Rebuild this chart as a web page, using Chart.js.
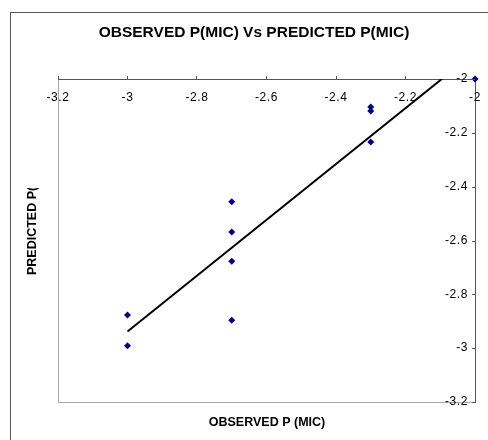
<!DOCTYPE html>
<html>
<head>
<meta charset="utf-8">
<script src="https://cdn.jsdelivr.net/npm/chart.js@4.4.1/dist/chart.umd.min.js"></script>
<style>
html,body{margin:0;padding:0;background:#fff;}
#wrap{position:relative;width:488px;height:440px;}
</style>
</head>
<body>
<div id="wrap"><canvas id="c" width="488" height="440"></canvas></div>
<script>
// ---- data ----
const observed  = [-2, -2.3, -2.3, -2.3, -2.7, -2.7, -2.7, -2.7, -3, -3];
const predicted = [-2, -2.104, -2.119, -2.234, -2.456, -2.568, -2.677, -2.896, -2.877, -2.991];
const axisMin = -3.2, axisMax = -2, axisStep = 0.2;
const titleText = 'OBSERVED P(MIC) Vs PREDICTED P(MIC)';
const xTitleText = 'OBSERVED P (MIC)';
const yTitleText = 'PREDICTED P(MIC)';

// least-squares trendline (linear)
const n = observed.length;
const mx = observed.reduce((a,b)=>a+b,0)/n;
const my = predicted.reduce((a,b)=>a+b,0)/n;
let sxy=0, sxx=0;
for (let i=0;i<n;i++){ sxy+=(observed[i]-mx)*(predicted[i]-my); sxx+=(observed[i]-mx)**2; }
const slope = sxy/sxx, icpt = my - slope*mx;
const xStart = Math.min(...observed);
const xEnd = (axisMax - icpt)/slope;
const trend = [{x:xStart, y:icpt+slope*xStart},{x:xEnd, y:icpt+slope*xEnd}];

const pts = observed.map((x,i)=>({x, y:predicted[i]}));

const FONT = "'Liberation Sans', Arial, sans-serif";
const fmt = v => String(Math.round(v*10)/10);

const decor = {
  id:'decor',
  beforeDraw(chart){
    const ctx = chart.ctx, a = chart.chartArea;
    ctx.save();
    ctx.strokeStyle = '#555';
    ctx.lineWidth = 1;
    ctx.strokeRect(10.5, 12.5, 500, 450);
    ctx.strokeStyle = '#a6a6a6';
    ctx.beginPath();
    ctx.moveTo(a.left+0.5, a.top); ctx.lineTo(a.left+0.5, a.bottom+0.5);
    ctx.lineTo(a.right, a.bottom+0.5);
    ctx.stroke();
    ctx.restore();
  },
  afterDraw(chart){
    const ctx = chart.ctx, a = chart.chartArea;
    const xs = chart.scales.x, ys = chart.scales.y;
    ctx.save();
    ctx.strokeStyle = '#555';
    ctx.lineWidth = 1;
    ys.ticks.forEach(t=>{
      const py = Math.round(ys.getPixelForValue(t.value))+0.5;
      ctx.beginPath(); ctx.moveTo(a.right-3, py); ctx.lineTo(a.right, py); ctx.stroke();
    });
    // tick labels
    ctx.fillStyle = '#000';
    ctx.font = "12px " + FONT;
    ctx.letterSpacing = '0.6px';
    ctx.textBaseline = 'middle';
    ctx.textAlign = 'center';
    xs.ticks.forEach(t=>{
      ctx.fillText(fmt(t.value), xs.getPixelForValue(t.value), a.top + 19);
    });
    ctx.textAlign = 'right';
    ys.ticks.forEach(t=>{
      ctx.fillText(fmt(t.value), a.right - 7, ys.getPixelForValue(t.value));
    });
    ctx.letterSpacing = '0px';
    // title
    ctx.textAlign = 'center';
    ctx.font = "bold 15.5px " + FONT;
    ctx.fillText(titleText, 254, 33);
    // x title
    ctx.font = "bold 12.5px " + FONT;
    ctx.fillText(xTitleText, 267, 423);
    // y title (rotated, clipped like the reference)
    ctx.save();
    ctx.beginPath(); ctx.rect(0, 188, 60, 200); ctx.clip();
    ctx.translate(33, 275);
    ctx.rotate(-Math.PI/2);
    ctx.textAlign = 'left';
    ctx.fillText(yTitleText, 0, 0);
    ctx.restore();
    ctx.restore();
  }
};

new Chart(document.getElementById('c'), {
  type:'scatter',
  data:{
    datasets:[
      {label:'Trend', type:'line', data:trend, borderColor:'#000', borderWidth:2, pointRadius:0, fill:false, clip:0, order:1},
      {label:'P(MIC)', data:pts, pointStyle:'rectRot', pointRadius:3.5, backgroundColor:'#000080', borderColor:'#000080', borderWidth:0, clip:false, order:0}
    ]
  },
  options:{
    responsive:false,
    animation:false,
    layout:{padding:{left:58, top:79, right:13, bottom:38}},
    plugins:{legend:{display:false}, title:{display:false}, tooltip:{enabled:false}},
    scales:{
      x:{
        type:'linear', position:'top', min:axisMin, max:axisMax,
        afterFit(s){ s.height = 0; },
        ticks:{stepSize:axisStep, display:false},
        grid:{display:true, drawOnChartArea:false, tickLength:3, color:'#555'},
        border:{display:true, color:'#555', width:1}
      },
      y:{
        type:'linear', position:'right', min:axisMin, max:axisMax,
        afterFit(s){ s.width = 0; },
        ticks:{stepSize:axisStep, display:false},
        grid:{display:false},
        border:{display:true, color:'#555', width:1}
      }
    }
  },
  plugins:[decor]
});
</script>
</body>
</html>
